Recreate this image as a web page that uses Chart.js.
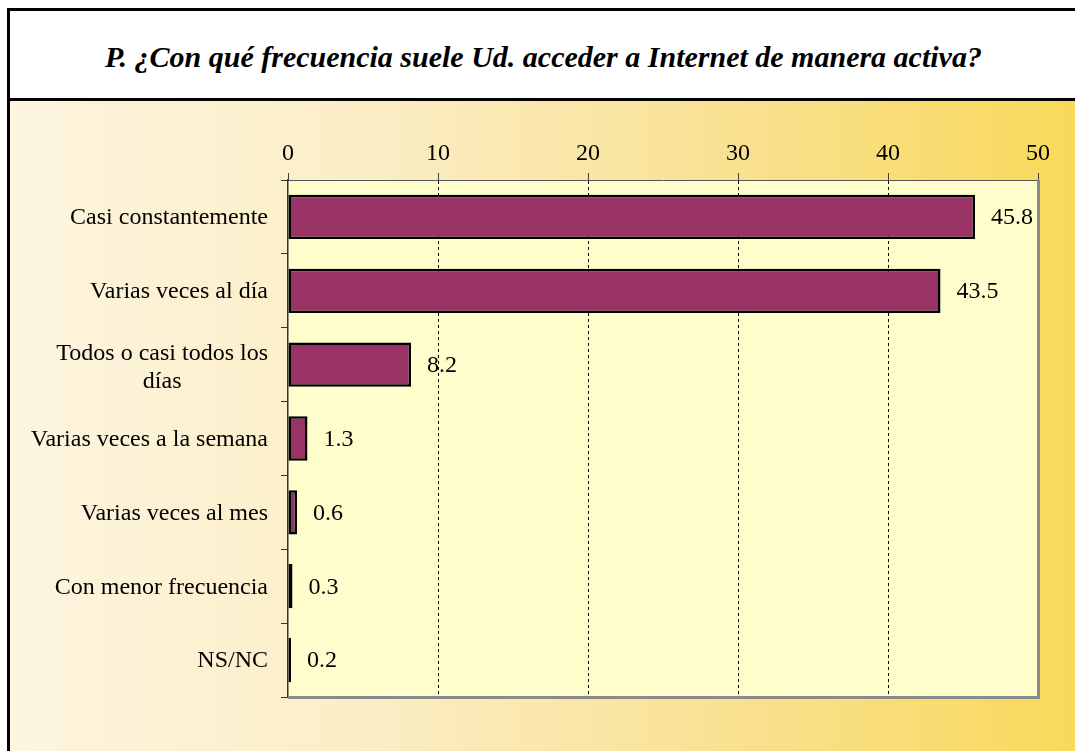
<!DOCTYPE html>
<html>
<head>
<meta charset="utf-8">
<script src="https://cdn.jsdelivr.net/npm/chart.js@4/dist/chart.umd.min.js"></script>
<style>
  html, body { margin: 0; padding: 0; width: 1075px; height: 751px; overflow: hidden; background: #ffffff; }
  #frame { position: absolute; left: 7px; top: 8px; width: 1068px; height: 743px; border-left: 3px solid #000; border-top: 3px solid #000; box-sizing: border-box; }
  #title { position: absolute; left: 0; top: 0; right: 0; height: 90px; border-bottom: 3px solid #000; box-sizing: border-box; background: #fff;
           display: flex; align-items: center; justify-content: center; padding-top: 4px; padding-left: 2px;
           font-family: "Liberation Serif", "Times New Roman", serif; font-style: italic; font-weight: bold; font-size: 30px; color: #000; }
  #bg { position: absolute; left: 0; top: 90px; right: 0; bottom: 0;
        background: linear-gradient(to right, #fdf5df 0%, #fbedc4 35%, #f9e08e 70%, #f8d95a 100%); }
  #c { position: absolute; left: 0; top: 0; }
</style>
</head>
<body>
<div id="frame">
  <div id="title">P. ¿Con qué frecuencia suele Ud. acceder a Internet de manera activa?</div>
  <div id="bg"></div>
</div>
<canvas id="c" width="1075" height="751"></canvas>
<script>
const categories = [
  ["Casi constantemente"],
  ["Varias veces al día"],
  ["Todos o casi todos los", "días"],
  ["Varias veces a la semana"],
  ["Varias veces al mes"],
  ["Con menor frecuencia"],
  ["NS/NC"]
];
const values = [45.8, 43.5, 8.2, 1.3, 0.6, 0.3, 0.2];
const valueLabels = ["45.8", "43.5", "8.2", "1.3", "0.6", "0.3", "0.2"];
const xTicks = [0, 10, 20, 30, 40, 50];

const FONT = '"Liberation Serif", "Times New Roman", serif';

const plotDeco = {
  id: 'plotDeco',
  beforeDraw(chart) {
    const {ctx, chartArea: a} = chart;
    ctx.save();
    ctx.fillStyle = '#fffdcc';
    ctx.fillRect(a.left, a.top, a.right - a.left, a.bottom - a.top);
    ctx.restore();
  },
  afterDraw(chart) {
    const {ctx, chartArea: a} = chart;
    ctx.save();
    ctx.fillStyle = '#8a8a8a';
    ctx.fillRect(a.right - 1, a.top, 3, a.bottom - a.top + 2);
    ctx.fillRect(a.left, a.bottom - 1, a.right - a.left + 2, 3);
    // category labels
    const ys = chart.scales.y;
    ctx.font = '24px ' + FONT;
    ctx.fillStyle = '#000';
    ctx.textBaseline = 'middle';
    ctx.textAlign = 'center';
    const rightEdge = a.left - 20;
    const lh = 28;
    categories.forEach((lines, i) => {
      const cy = ys.getPixelForValue(i) + (lines.length > 1 ? 3 : 1);
      const w = Math.max(...lines.map(l => ctx.measureText(l).width));
      const cx = rightEdge - w / 2;
      const y0 = cy - (lines.length - 1) * lh / 2;
      lines.forEach((l, j) => ctx.fillText(l, cx, y0 + j * lh));
    });
    ctx.restore();
  },
  afterDatasetsDraw(chart) {
    const {ctx} = chart;
    const meta = chart.getDatasetMeta(0);
    ctx.save();
    ctx.font = '24px ' + FONT;
    ctx.fillStyle = '#000';
    ctx.textBaseline = 'middle';
    ctx.textAlign = 'left';
    meta.data.forEach((bar, i) => {
      ctx.fillText(valueLabels[i], bar.x + 16, bar.y + 1);
    });
    ctx.restore();
  }
};

new Chart(document.getElementById('c'), {
  type: 'bar',
  data: {
    labels: categories.map(c => c.join(' ')),
    datasets: [{
      data: values,
      backgroundColor: '#993366',
      borderColor: '#000000',
      borderWidth: 2.5,
      borderSkipped: false,
      barPercentage: 0.6,
      categoryPercentage: 1.0
    }]
  },
  options: {
    indexAxis: 'y',
    responsive: false,
    animation: false,
    devicePixelRatio: 1,
    layout: { padding: { left: 0, top: 101, right: 37, bottom: 54 } },
    plugins: { legend: { display: false }, tooltip: { enabled: false }, title: { display: false } },
    scales: {
      x: {
        position: 'top',
        min: 0, max: 50,
        afterBuildTicks(scale) { scale.ticks = xTicks.map(v => ({ value: v })); },
        afterFit(scale) { scale.height = 79; },
        ticks: { font: { family: FONT, size: 24 }, color: '#000', padding: 5 },
        grid: {
          color: (c) => (c.tick && (c.tick.value === 0 || c.tick.value === 50)) ? 'rgba(0,0,0,0)' : '#000',
          lineWidth: 1,
          drawTicks: true,
          tickLength: 7,
          tickColor: '#404040',
          tickBorderDash: [],
          tickWidth: 1
        },
        border: { display: true, color: '#555', width: 1, dash: [3, 3] }
      },
      y: {
        afterFit(scale) { scale.width = 288; },
        ticks: { display: false },
        grid: { drawOnChartArea: false, drawTicks: true, tickLength: 7, tickColor: '#333', offset: true },
        border: { display: true, color: '#333', width: 1.5 }
      }
    }
  },
  plugins: [plotDeco]
});
</script>
</body>
</html>
